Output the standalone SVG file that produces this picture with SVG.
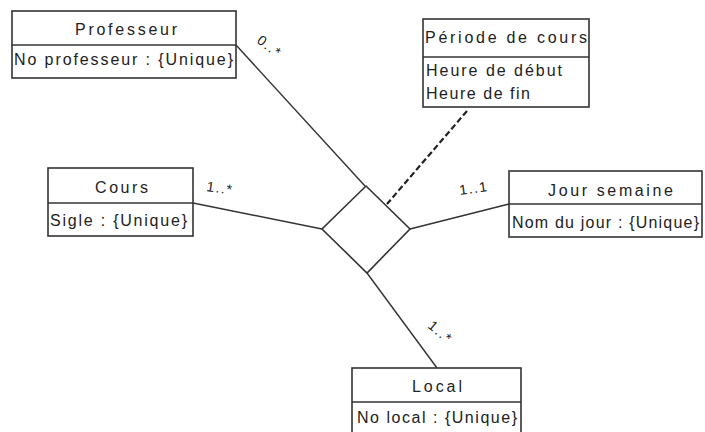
<svg xmlns="http://www.w3.org/2000/svg" width="705" height="432" viewBox="0 0 705 432">
<style>
.box{fill:#fff;stroke:#333;stroke-width:1.6}
.div{stroke:#333;stroke-width:1.6}
.t{font-family:"Liberation Sans",Arial,sans-serif;font-size:16px;fill:#222}
.m{font-family:"Liberation Sans",Arial,sans-serif;font-size:14px;fill:#222;letter-spacing:1.5px}
.ln{stroke:#333;stroke-width:1.4;fill:none}
.dash{stroke:#222;stroke-width:2.2;stroke-dasharray:6,3;fill:none}
</style>
<rect width="705" height="432" fill="#fff"/>
<g id="connectors">
<line class="ln" x1="236" y1="45" x2="365" y2="186"/>
<line class="ln" x1="193" y1="203" x2="322" y2="229"/>
<line class="ln" x1="410" y1="229" x2="509" y2="204"/>
<line class="ln" x1="367" y1="273" x2="437" y2="368"/>
<line class="dash" x1="467" y1="111" x2="387" y2="204"/>
<text class="m" transform="translate(256,42) rotate(38)">0..*</text>
<text class="m" transform="translate(206,191) rotate(8)">1..*</text>
<text class="m" transform="translate(460,195) rotate(-8)">1..1</text>
<text class="m" transform="translate(427,327) rotate(40)">1..*</text>
</g>
<g id="diamond">
<polygon class="box" points="366,186 410,229 367,273 322,229"/>
</g>
<g id="professeur">
<rect class="box" x="12" y="11" width="224" height="67"/>
<line class="div" x1="12" y1="45" x2="236" y2="45"/>
<text class="t" x="75" y="35" textLength="102" lengthAdjust="spacing">Professeur</text>
<text class="t" x="14" y="65" textLength="219" lengthAdjust="spacing">No professeur : {Unique}</text>
</g>
<g id="periode">
<rect class="box" x="423" y="19" width="166" height="88"/>
<line class="div" x1="423" y1="57" x2="589" y2="57"/>
<text class="t" x="425" y="43" textLength="162" lengthAdjust="spacing">Période de cours</text>
<text class="t" x="426" y="76" textLength="136" lengthAdjust="spacing">Heure de début</text>
<text class="t" x="426" y="99" textLength="104" lengthAdjust="spacing">Heure de fin</text>
</g>
<g id="cours">
<rect class="box" x="48" y="168" width="145" height="68"/>
<line class="div" x1="48" y1="203" x2="193" y2="203"/>
<text class="t" x="95" y="193" textLength="53" lengthAdjust="spacing">Cours</text>
<text class="t" x="50" y="226" textLength="137" lengthAdjust="spacing">Sigle : {Unique}</text>
</g>
<g id="jour">
<rect class="box" x="509" y="171" width="193" height="66"/>
<line class="div" x1="509" y1="204" x2="702" y2="204"/>
<text class="t" x="548" y="196" textLength="125" lengthAdjust="spacing">Jour semaine</text>
<text class="t" x="512" y="228" textLength="187" lengthAdjust="spacing">Nom du jour : {Unique}</text>
</g>
<g id="local">
<rect class="box" x="352" y="368" width="169" height="72"/>
<line class="div" x1="352" y1="402" x2="521" y2="402"/>
<text class="t" x="412" y="392" textLength="50" lengthAdjust="spacing">Local</text>
<text class="t" x="357" y="423" textLength="160" lengthAdjust="spacing">No local : {Unique}</text>
</g>
</svg>
